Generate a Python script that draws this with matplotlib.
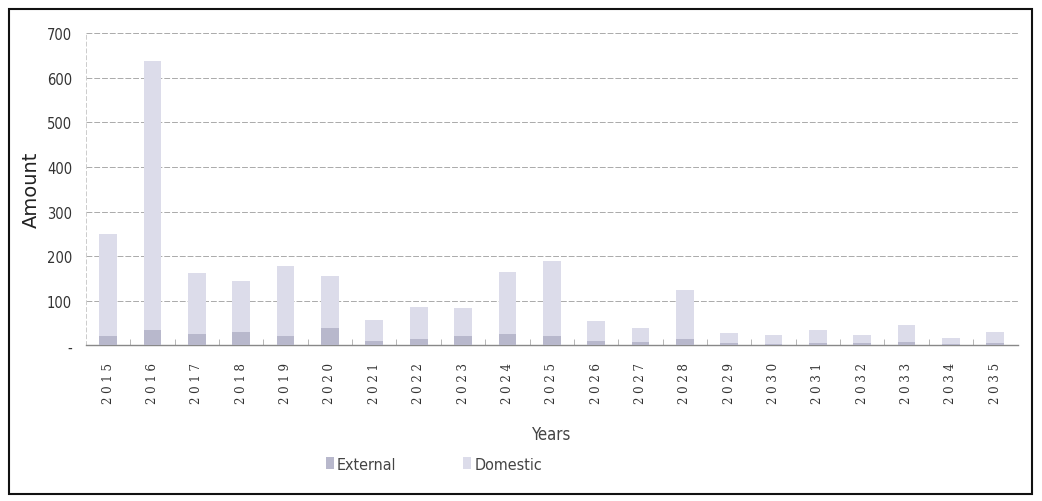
import matplotlib.pyplot as plt
from matplotlib.patches import Rectangle

# --------------------------
# Dane
# --------------------------
years = [str(y) for y in range(2015, 2036)]
external = [20, 35, 25, 30, 20, 40, 10, 15, 20, 25, 20, 10, 8, 15, 5, 4, 6, 5, 8, 3, 6]
domestic = [230, 602, 137, 115, 159, 115, 47, 70, 64, 140, 170, 45, 30, 109, 23, 20, 28, 19, 38, 14, 24]
y_ticks = [0, 100, 200, 300, 400, 500, 600, 700]
y_tick_labels = ["-", "100", "200", "300", "400", "500", "600", "700"]

ext_color = "#b8b8cc"
dom_color = "#dcdcea"

fig = plt.figure(figsize=(10.42, 5.02), dpi=100)
ax = fig.add_axes([0.0825, 0.31, 0.894, 0.622])

x = list(range(len(years)))
ax.bar(x, external, width=0.4, color=ext_color, label="External", zorder=3)
ax.bar(x, domestic, width=0.4, bottom=external, color=dom_color, label="Domestic", zorder=3)

ax.set_xlim(-0.5, len(years) - 0.5)
ax.set_ylim(0, 700)
ax.set_yticks(y_ticks)
ax.set_yticklabels(y_tick_labels, fontsize=10.5, fontstretch="condensed", color="#333333")
ax.set_xticks(x)
ax.set_xticklabels([" ".join(y) for y in years], rotation=90, family="DejaVu Serif",
                   fontsize=8.5, color="#333333")
ax.tick_params(axis="y", length=0, pad=10)
ax.tick_params(axis="x", length=0, pad=12)
# male kreski miedzy kategoriami
ax.set_xticks([i + 0.5 for i in x[:-1]], minor=True)
ax.tick_params(axis="x", which="minor", length=4, color="#aaaaaa", direction="in")

ax.grid(axis="y", linestyle=(0, (6, 2)), color="#aaaaaa", linewidth=0.7, zorder=0)
for s in ["top", "right"]:
    ax.spines[s].set_visible(False)
ax.spines["left"].set_color("#cccccc")
ax.spines["left"].set_linestyle((0, (4, 3)))
ax.spines["left"].set_linewidth(0.7)
ax.spines["bottom"].set_color("#888888")
ax.spines["bottom"].set_linewidth(1.0)

ax.set_ylabel("Amount", fontsize=14, color="#222222", labelpad=4)
ax.set_xlabel("Years", fontsize=12, fontstretch="condensed", color="#444444", labelpad=16)

leg = fig.legend(loc="center", bbox_to_anchor=(0.4165, 0.073), ncol=2, frameon=False,
                 prop={"size": 11.5, "stretch": "condensed"}, handlelength=0.5, handleheight=0.8,
                 handletextpad=0.2, columnspacing=4.2)
for t in leg.get_texts():
    t.set_color("#444444")

# ramka wokol calego wykresu
fig.patches.append(Rectangle((9 / 1042, 1 - 495 / 502), 1023 / 1042, 485 / 502,
                             transform=fig.transFigure, fill=False, edgecolor="#111111",
                             linewidth=1.5))

fig.savefig("out.png", dpi=100)
